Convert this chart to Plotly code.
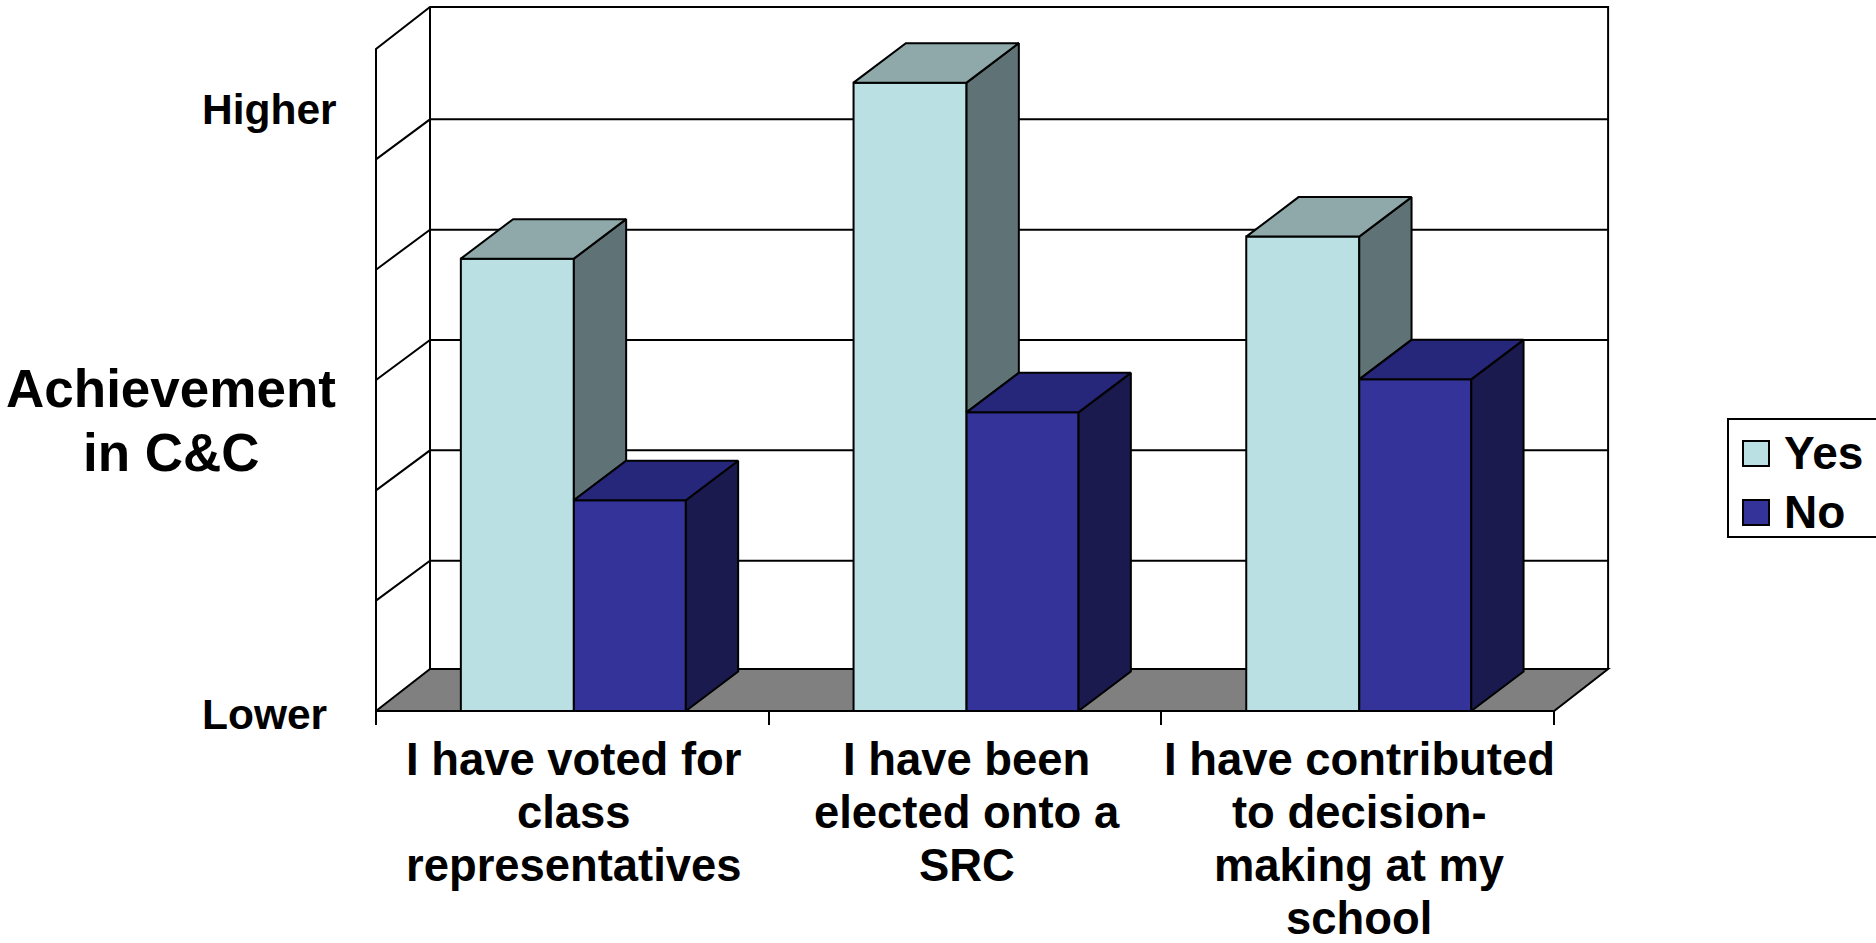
import plotly.graph_objects as go

# Chart content
CATEGORY_LINES = [
    ["I have voted for", "class", "representatives"],
    ["I have been", "elected onto a", "SRC"],
    ["I have contributed", "to decision-", "making at my", "school"],
]
CATEGORY_X = [0.5, 1.5, 2.5]
YES_VALUES = [4.10, 5.695, 4.30]
NO_VALUES = [1.91, 2.707, 3.006]
SERIES_NAMES = ["Yes", "No"]
LEVELS = [0, 1, 2, 3, 4, 5, 6]
TITLE_LINES = ["Achievement", "in C&C"]
LOW_LABEL = "Lower"
HIGH_LABEL = "Higher"

# Look of the pseudo-3D boxes
YES_FRONT, YES_TOP, YES_SIDE = "#bae0e3", "#8fa9ab", "#5f7275"
NO_FRONT, NO_TOP, NO_SIDE = "#343399", "#26267a", "#1a1a4e"
FLOOR = "#808080"
INK = "black"
FONT = "Liberation Sans"

# Plot frame in pixels and the scale it implies
W, H = 1876, 943
L, R, T, B = 370, 1616, 2, 725
PX_PER_X = 392.7
PX_PER_Y = 110.33
ORIGIN_X, ORIGIN_Y = 376, 711
WALL_DX = 54 / PX_PER_X
WALL_DY = 42 / PX_PER_Y
GRID_DY = 40 / PX_PER_Y
BOX_DX = 52.3 / PX_PER_X
BOX_DY = 39.5 / PX_PER_Y
YES_W = 113 / PX_PER_X
NO_W = 112 / PX_PER_X
GROUP_SHIFT = 1.5 / PX_PER_X
MAX_X = 3
TOP_LEVEL = LEVELS[-1]


def paper_x(px):
    return (px - L) / (R - L)


def paper_y(py):
    return (B - py) / (B - T)


def poly(xs, ys):
    parts = [f"{'M' if i == 0 else 'L'}{x},{y}" for i, (x, y) in enumerate(zip(xs, ys))]
    return " ".join(parts)


def face(xs, ys, color):
    return go.Scatter(
        x=xs + xs[:1], y=ys + ys[:1], mode="lines", fill="toself", fillcolor=color,
        line=dict(color=INK, width=2), hoverinfo="skip", showlegend=False,
    )


def box_top(x0, x1, v, color):
    return face([x0, x1, x1 + BOX_DX, x0 + BOX_DX], [v, v, v + BOX_DY, v + BOX_DY], color)


def box_side(x1, low, high, color):
    return face([x1, x1 + BOX_DX, x1 + BOX_DX, x1],
                [low, low + BOX_DY, high + BOX_DY, high], color)


fig = go.Figure()

# Front faces
fig.add_bar(x=CATEGORY_X, y=YES_VALUES, width=YES_W, offset=GROUP_SHIFT - YES_W,
            name=SERIES_NAMES[0], showlegend=False,
            marker=dict(color=YES_FRONT, line=dict(color=INK, width=2)))
fig.add_bar(x=CATEGORY_X, y=NO_VALUES, width=NO_W, offset=GROUP_SHIFT,
            name=SERIES_NAMES[1], showlegend=False,
            marker=dict(color=NO_FRONT, line=dict(color=INK, width=2)))

# Top and side faces; the Yes side is only visible above the neighbouring No box
for cx, yes, no in zip(CATEGORY_X, YES_VALUES, NO_VALUES):
    split = cx + GROUP_SHIFT
    fig.add_trace(box_side(split, no, yes, YES_SIDE))
    fig.add_trace(box_top(split - YES_W, split, yes, YES_TOP))
    fig.add_trace(box_side(split + NO_W, 0, no, NO_SIDE))
    fig.add_trace(box_top(split, split + NO_W, no, NO_TOP))

shapes = []
line = dict(color=INK, width=2)

# Floor
shapes.append(dict(type="path", layer="below", xref="x", yref="y", fillcolor=FLOOR, line=line,
                   path=poly([0, MAX_X, MAX_X + WALL_DX, WALL_DX, 0],
                             [0, 0, WALL_DY, WALL_DY, 0])))
# Side wall and back wall outline
shapes.append(dict(type="path", layer="below", xref="x", yref="y", line=line,
                   path=poly([0, 0, WALL_DX, MAX_X + WALL_DX, MAX_X + WALL_DX],
                             [0, TOP_LEVEL, TOP_LEVEL + WALL_DY, TOP_LEVEL + WALL_DY, WALL_DY])))
shapes.append(dict(type="line", layer="below", xref="x", yref="y", line=line,
                   x0=WALL_DX, x1=WALL_DX, y0=WALL_DY, y1=TOP_LEVEL + WALL_DY))
# Gridlines wrapping the side and back walls
for level in LEVELS[1:-1]:
    shapes.append(dict(type="path", layer="below", xref="x", yref="y", line=line,
                       path=poly([0, WALL_DX, MAX_X + WALL_DX],
                                 [level, level + GRID_DY, level + GRID_DY])))
# Front baseline
shapes.append(dict(type="line", layer="above", xref="x", yref="y", line=line,
                   x0=0, x1=MAX_X, y0=0, y1=0))

# Legend box, running off the right edge of the page
shapes.append(dict(type="rect", xref="paper", yref="paper", line=line, fillcolor="white",
                   x0=paper_x(1728), x1=paper_x(1900), y0=paper_y(537), y1=paper_y(419)))
shapes.append(dict(type="rect", xref="paper", yref="paper", line=line, fillcolor=YES_FRONT,
                   x0=paper_x(1743), x1=paper_x(1769), y0=paper_y(466), y1=paper_y(441)))
shapes.append(dict(type="rect", xref="paper", yref="paper", line=line, fillcolor=NO_FRONT,
                   x0=paper_x(1743), x1=paper_x(1769), y0=paper_y(525), y1=paper_y(500)))


def label(text, px, py, size, anchor="center"):
    return dict(text=text, xref="paper", yref="paper", x=paper_x(px), y=paper_y(py),
                xanchor=anchor, yanchor="middle", showarrow=False,
                font=dict(family=FONT, size=size, color=INK, weight=700))


annotations = []
for cx, lines in zip(CATEGORY_X, CATEGORY_LINES):
    for i, text in enumerate(lines):
        annotations.append(label(text, ORIGIN_X + (cx + GROUP_SHIFT) * PX_PER_X, 759 + 53 * i, 45.4))
annotations.append(label(TITLE_LINES[0], 171, 388.5, 53))
annotations.append(label(TITLE_LINES[1], 171, 452, 53))
annotations.append(label(HIGH_LABEL, 200, 109, 42.5, "left"))
annotations.append(label(LOW_LABEL, 200, 714, 42.5, "left"))
annotations.append(label(SERIES_NAMES[0], 1782, 453, 46, "left"))
annotations.append(label(SERIES_NAMES[1], 1782, 512, 46, "left"))

fig.update_layout(
    width=W, height=H, margin=dict(l=L, r=W - R, t=T, b=H - B, autoexpand=False),
    paper_bgcolor="white", plot_bgcolor="white", barmode="overlay",
    showlegend=False, shapes=shapes, annotations=annotations,
    xaxis=dict(range=[(L - ORIGIN_X) / PX_PER_X, (R - ORIGIN_X) / PX_PER_X],
               tickmode="array", tickvals=[0, 1, 2, 3], showticklabels=False,
               ticks="inside", ticklen=14, tickwidth=2, tickcolor=INK,
               showgrid=False, zeroline=False, showline=False, fixedrange=True),
    yaxis=dict(range=[(ORIGIN_Y - B) / PX_PER_Y, (ORIGIN_Y - T) / PX_PER_Y],
               showticklabels=False, ticks="", showgrid=False, zeroline=False,
               showline=False, fixedrange=True),
)

fig.write_html("out.html", config=dict(displayModeBar=False))
